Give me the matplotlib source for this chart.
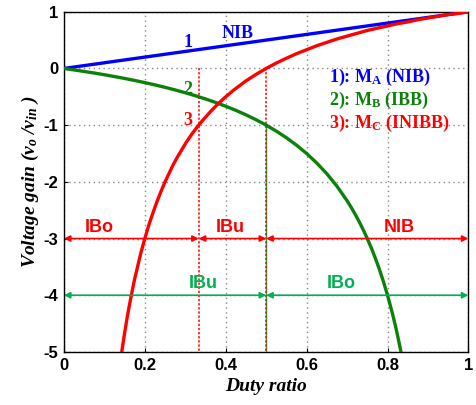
import matplotlib
matplotlib.use('Agg')
import matplotlib.pyplot as plt

# ---------------------------------------------------------------------------
# Data
# ---------------------------------------------------------------------------
d_nib = [0.0, 0.2, 0.4, 0.6, 0.8, 1.0]
m_nib = [0.0, 0.2, 0.4, 0.6, 0.8, 1.0]

d_ibb = [0.0, 0.025, 0.05, 0.075, 0.1, 0.125, 0.15, 0.175, 0.2, 0.225, 0.25,
         0.275, 0.3, 0.325, 0.35, 0.375, 0.4, 0.425, 0.45, 0.475, 0.5, 0.525,
         0.55, 0.575, 0.6, 0.625, 0.65, 0.675, 0.7, 0.71, 0.72, 0.73, 0.74,
         0.75, 0.76, 0.77, 0.78, 0.79, 0.8, 0.81, 0.815, 0.82, 0.825, 0.833]
m_ibb = [0.0, -0.026, -0.053, -0.081, -0.111, -0.143, -0.176, -0.212, -0.25,
         -0.29, -0.333, -0.379, -0.429, -0.481, -0.538, -0.6, -0.667, -0.739,
         -0.818, -0.905, -1.0, -1.105, -1.222, -1.353, -1.5, -1.667, -1.857,
         -2.077, -2.333, -2.448, -2.571, -2.704, -2.846, -3.0, -3.167, -3.348,
         -3.545, -3.762, -4.0, -4.263, -4.405, -4.556, -4.714, -4.99]

d_inibb = [0.143, 0.145, 0.15, 0.155, 0.16, 0.165, 0.17, 0.175, 0.18, 0.185,
           0.19, 0.195, 0.2, 0.21, 0.22, 0.23, 0.24, 0.25, 0.26, 0.27, 0.28,
           0.29, 0.3, 0.315, 0.333, 0.345, 0.36, 0.38, 0.4, 0.42, 0.45, 0.475,
           0.5, 0.525, 0.55, 0.575, 0.6, 0.625, 0.65, 0.675, 0.7, 0.725, 0.75,
           0.775, 0.8, 0.825, 0.85, 0.875, 0.9, 0.925, 0.95, 0.975, 1.0]
m_inibb = [-5.0, -4.90, -4.67, -4.45, -4.25, -4.06, -3.88, -3.71, -3.56, -3.41,
           -3.26, -3.13, -3.0, -2.76, -2.55, -2.35, -2.17, -2.0, -1.85, -1.70,
           -1.57, -1.45, -1.33, -1.17, -1.0, -0.90, -0.78, -0.63, -0.5, -0.38,
           -0.22, -0.105, 0.0, 0.095, 0.18, 0.26, 0.33, 0.40, 0.46, 0.52, 0.57,
           0.62, 0.67, 0.71, 0.75, 0.79, 0.82, 0.86, 0.89, 0.92, 0.95, 0.97, 1.0]

# operating regions (start, end, label, x of label)
red_regions = [(0.0, 1 / 3, 'IBo', 0.088), (1 / 3, 0.5, 'IBu', 0.41),
               (0.5, 1.0, 'NIB', 0.83)]
green_regions = [(0.0, 0.5, 'IBu', 0.344), (0.5, 1.0, 'IBo', 0.685)]
red_row_y = -3
green_row_y = -4

legend_lines = [r'1): M$_{\mathrm{A}}$ (NIB)', r'2): M$_{\mathrm{B}}$ (IBB)',
                r'3): M$_{\mathrm{C}}$ (INIBB)']

x_ticks = [0, 0.2, 0.4, 0.6, 0.8, 1]
x_tick_labels = ['0', '0.2', '0.4', '0.6', '0.8', '1']
y_ticks = [-5, -4, -3, -2, -1, 0, 1]

# ---------------------------------------------------------------------------
# Style
# ---------------------------------------------------------------------------
BLUE = '#0000ff'
GREEN = '#0a820a'
RED = '#ff0000'
LIGHT_GREEN = '#00b050'

plt.rcParams['axes.unicode_minus'] = False
plt.rcParams['mathtext.fontset'] = 'custom'
plt.rcParams['mathtext.rm'] = 'Liberation Serif:bold'
plt.rcParams['mathtext.bf'] = 'Liberation Serif:bold'
plt.rcParams['mathtext.it'] = 'Liberation Serif:bold:italic'

fig = plt.figure(figsize=(4.77, 4.05), dpi=100)
ax = fig.add_axes([0.134, 0.131, 0.848, 0.840])

ax.plot(d_nib, m_nib, color=BLUE, lw=2.4, zorder=4)
ax.plot(d_ibb, m_ibb, color=GREEN, lw=2.4, zorder=4)
ax.plot(d_inibb, m_inibb, color=RED, lw=2.4, zorder=5)

# vertical boundary lines
ax.plot([1 / 3, 1 / 3], [0, -5], color=RED, lw=1.1, ls=(0, (1.5, 1.2)), zorder=3)
ax.plot([0.5, 0.5], [-1, -5], color=LIGHT_GREEN, lw=1, zorder=3)
ax.plot([0.5, 0.5], [0, -5], color=RED, lw=1.1, ls=(0, (1.5, 1.2)), zorder=3)

# region arrows
for x0, x1, label, xt in red_regions:
    ax.annotate('', xy=(x1, red_row_y), xytext=(x0, red_row_y),
                arrowprops=dict(arrowstyle='<|-|>', color=RED, lw=1.2,
                                mutation_scale=9, shrinkA=0, shrinkB=0),
                zorder=6)
    ax.text(xt, red_row_y + 0.05, label, color=RED, fontsize=13,
            fontweight='bold', family='Liberation Sans', ha='center', va='bottom')
for x0, x1, label, xt in green_regions:
    ax.annotate('', xy=(x1, green_row_y), xytext=(x0, green_row_y),
                arrowprops=dict(arrowstyle='<|-|>', color=LIGHT_GREEN, lw=1.2,
                                mutation_scale=9, shrinkA=0, shrinkB=0),
                zorder=6)
    ax.text(xt, green_row_y + 0.05, label, color=LIGHT_GREEN, fontsize=13,
            fontweight='bold', family='Liberation Sans', ha='center', va='bottom')

# curve labels
serif_bold = dict(family='Liberation Serif', fontweight='bold', fontsize=13)
ax.text(0.307, 0.45, '1', color=BLUE, ha='center', va='center', **serif_bold)
ax.text(0.43, 0.62, 'NIB', color=BLUE, ha='center', va='center', **serif_bold)
ax.text(0.307, -0.37, '2', color=GREEN, ha='center', va='center', **serif_bold)
ax.text(0.307, -0.92, '3', color=RED, ha='center', va='center', **serif_bold)

for i, (txt, col) in enumerate(zip(legend_lines, [BLUE, GREEN, RED])):
    ax.text(0.655, -0.15 - 0.41 * i, txt, color=col, ha='left', va='center',
            **serif_bold)

ax.set_xlim(0, 1)
ax.set_ylim(-5, 1)
ax.set_xticks(x_ticks)
ax.set_xticklabels(x_tick_labels)
ax.set_yticks(y_ticks)
ax.tick_params(direction='in', length=3, width=0.8, labelsize=12, pad=4)
for lab in ax.get_xticklabels() + ax.get_yticklabels():
    lab.set_fontweight('bold')
    lab.set_family('Liberation Sans')
ax.grid(True, color='#888888', ls=(0, (1, 2.5)), lw=1)
for sp in ax.spines.values():
    sp.set_linewidth(1)

ax.set_xlabel('Duty ratio', family='Liberation Serif', fontweight='bold',
              style='italic', fontsize=14, labelpad=4)
ax.set_ylabel(r'Voltage gain ($v_o$ /$v_{in}$ )', family='Liberation Serif',
              fontweight='bold', style='italic', fontsize=14, labelpad=2)

fig.savefig('out.png', dpi=100, facecolor='white')
